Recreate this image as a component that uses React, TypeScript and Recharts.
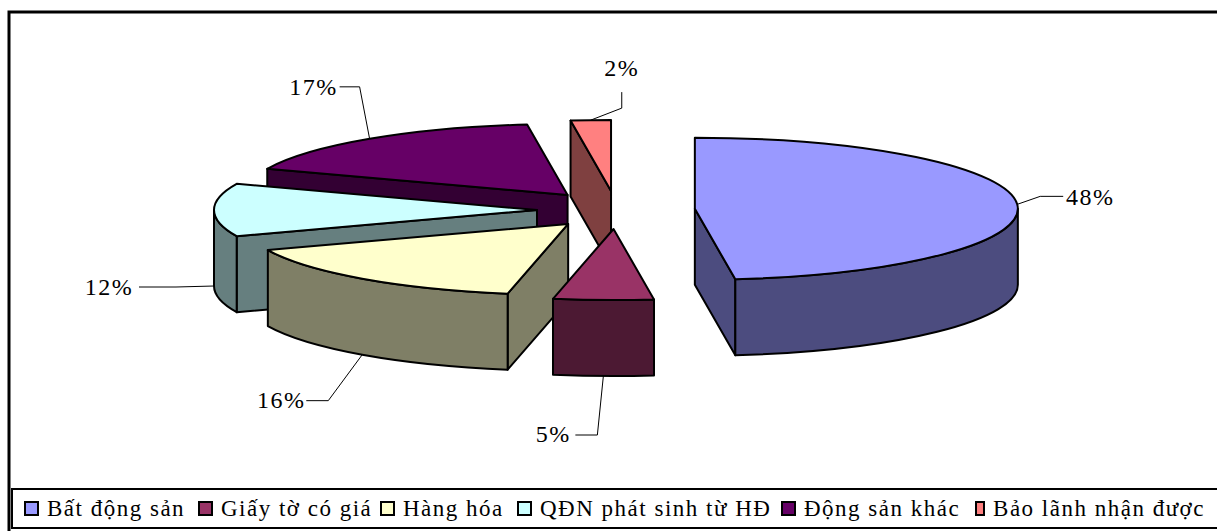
import React from "react";
import { PieChart, Pie, Legend } from "recharts";

const categories = [
  "Bất động sản",
  "Giấy tờ có giá",
  "Hàng hóa",
  "QĐN phát sinh từ HĐ",
  "Động sản khác",
  "Bảo lãnh nhận được",
];
const shares = [48, 5, 16, 12, 17, 2];
const topColors = ["#9999FF", "#993366", "#FFFFCC", "#CCFFFF", "#660066", "#FF8080"];
const wallColors = ["#4C4C7F", "#4C1933", "#7F7F66", "#667F7F", "#330033", "#7F4040"];

// back-to-front, so nearer slices cover the walls behind them
const paintOrder = [5, 4, 3, 2, 1, 0];

const tableRows = categories.map((name, i) => ({ name, value: shares[i], slice: i }));

const WIDTH = 1217;
const HEIGHT = 531;
const RADIUS = 323;
const TILT = 0.22;
const DEPTH = 76;
const EXPLODE_X = 79;
const EXPLODE_Y = 19;
const FONT = "'Liberation Serif', 'Times New Roman', serif";

// how far each slice is pulled out of the pie
const explodeScale = [1, 1, 0.95, 1, 1, 1];

// leader line bends and label centre, relative to the rim point of each slice
const leaders = [
  { elbow: [23, -8], tail: [46, -8], text: [73, 1] },
  { elbow: [-6, 59], tail: [-28, 59], text: [-50, 66] },
  { elbow: [-34, 46], tail: [-56, 46], text: [-81, 53] },
  { elbow: [-38, 1], tail: [-75, 1], text: [-105, 9] },
  { elbow: [-10, -52], tail: [-30, -52], text: [-56, -44] },
  { elbow: [31, -12], tail: [31, -28], text: [31, -44] },
];

// width of each legend entry, the last one just runs on to the end
const legendSlots = [174, 182, 137, 264, 194, 230];

const rad = (deg: number) => (deg * Math.PI) / 180;

const Slice3D = ({ cx, cy, startAngle, endAngle, slice }: any) => {
  // recharts angles run anticlockwise from 3 o'clock, here clockwise from 12
  const from = 90 - startAngle;
  const to = 90 - endAngle;
  const mid = (from + to) / 2;
  const ax = cx + EXPLODE_X * explodeScale[slice] * Math.sin(rad(mid));
  const ay = cy - EXPLODE_Y * explodeScale[slice] * Math.cos(rad(mid));
  const ry = RADIUS * TILT;
  const rim = (deg: number): [number, number] => [
    ax + RADIUS * Math.sin(rad(deg)),
    ay - ry * Math.cos(rad(deg)),
  ];
  const [sx, sy] = rim(from);
  const [ex, ey] = rim(to);
  const edge = { stroke: "#000", strokeWidth: 2, strokeLinejoin: "round" as const };

  const wallFrom = Math.max(from, 90);
  const wallTo = Math.min(to, 270);
  let outerWall = null;
  if (wallTo > wallFrom) {
    const [wx0, wy0] = rim(wallFrom);
    const [wx1, wy1] = rim(wallTo);
    outerWall = (
      <path
        d={`M${wx0},${wy0} A${RADIUS},${ry} 0 0 1 ${wx1},${wy1} L${wx1},${wy1 + DEPTH} A${RADIUS},${ry} 0 0 0 ${wx0},${wy0 + DEPTH} Z`}
        fill={wallColors[slice]}
        {...edge}
      />
    );
  }

  const [rimX, rimY] = rim(mid);
  const anchorY = mid >= 90 && mid <= 270 ? rimY + DEPTH : rimY;
  const lead = leaders[slice];

  return (
    <g>
      {/* only the cut faces turned towards the viewer get a wall */}
      {from >= 180 && (
        <path
          d={`M${ax},${ay} L${sx},${sy} L${sx},${sy + DEPTH} L${ax},${ay + DEPTH} Z`}
          fill={wallColors[slice]}
          {...edge}
        />
      )}
      {to <= 180 && (
        <path
          d={`M${ax},${ay} L${ex},${ey} L${ex},${ey + DEPTH} L${ax},${ay + DEPTH} Z`}
          fill={wallColors[slice]}
          {...edge}
        />
      )}
      {outerWall}
      <path
        d={`M${ax},${ay} L${sx},${sy} A${RADIUS},${ry} 0 ${to - from > 180 ? 1 : 0} 1 ${ex},${ey} Z`}
        fill={topColors[slice]}
        {...edge}
      />
      <polyline
        points={`${rimX},${anchorY} ${rimX + lead.elbow[0]},${anchorY + lead.elbow[1]} ${rimX + lead.tail[0]},${anchorY + lead.tail[1]}`}
        fill="none"
        stroke="#000"
        strokeWidth={1}
      />
      <text
        x={rimX + lead.text[0]}
        y={anchorY + lead.text[1]}
        textAnchor="middle"
        fontFamily={FONT}
        fontSize={24}
        letterSpacing={1.5}
        fill="#000"
      >
        {shares[slice]}%
      </text>
    </g>
  );
};

const LegendRow = () => (
  <div
    style={{
      boxSizing: "border-box",
      height: 41,
      border: "2px solid #000",
      borderRight: "none",
      display: "flex",
      alignItems: "center",
      paddingLeft: 11,
      fontFamily: FONT,
      fontSize: 23,
      letterSpacing: 1.5,
      whiteSpace: "nowrap",
      background: "#fff",
      color: "#000",
    }}
  >
    {categories.map((name, i) => (
      <span key={name} style={{ display: "inline-flex", alignItems: "center", flex: "none", width: legendSlots[i] }}>
        <span
          style={{
            display: "inline-block",
            boxSizing: "border-box",
            width: 15,
            height: 15,
            border: "2px solid #000",
            background: topColors[i],
            marginRight: 8,
          }}
        />
        {name}
      </span>
    ))}
  </div>
);

export default function App() {
  return (
    <div style={{ position: "absolute", left: 0, top: 0, width: WIDTH, height: HEIGHT, background: "#fff" }}>
      <PieChart width={WIDTH} height={HEIGHT} margin={{ top: 0, right: 0, bottom: 0, left: 0 }}>
        <rect x={9} y={12} width={WIDTH} height={HEIGHT} fill="#fff" stroke="#000" strokeWidth={3} />
        {paintOrder.map((slice) => (
          <Pie
            key={slice}
            data={tableRows}
            dataKey="value"
            nameKey="name"
            cx={616}
            cy={210}
            outerRadius={RADIUS}
            startAngle={90}
            endAngle={-270}
            paddingAngle={0}
            stroke="none"
            legendType="none"
            isAnimationActive={false}
            shape={(props: any) =>
              props.slice === slice ? <Slice3D {...props} /> : <g />
            }
          />
        ))}
        <Legend
          content={<LegendRow />}
          wrapperStyle={{ left: 11, top: 488, bottom: "auto", width: WIDTH - 11, height: 41 }}
        />
      </PieChart>
    </div>
  );
}
